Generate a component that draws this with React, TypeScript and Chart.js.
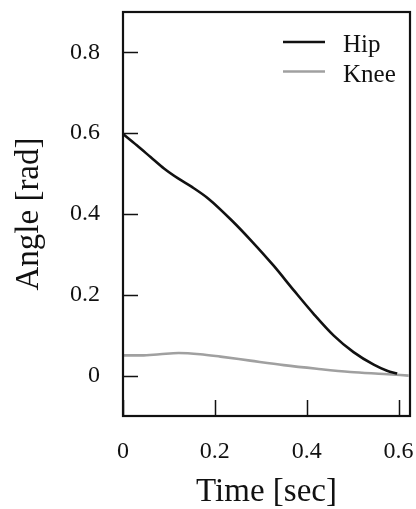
import React, { useEffect, useRef } from "react";
import { Chart, registerables } from "chart.js";

Chart.register(...registerables);

const hipTime = [0, 0.03, 0.06, 0.09, 0.12, 0.15, 0.186, 0.237, 0.28, 0.328, 0.372, 0.415, 0.459, 0.502, 0.546, 0.575, 0.597];
const hipAngle = [0.598, 0.570, 0.541, 0.512, 0.488, 0.467, 0.438, 0.384, 0.333, 0.272, 0.211, 0.153, 0.099, 0.058, 0.027, 0.012, 0.005];
const kneeTime = [0, 0.04, 0.08, 0.121, 0.168, 0.212, 0.277, 0.35, 0.422, 0.495, 0.568, 0.622];
const kneeAngle = [0.05, 0.05, 0.053, 0.056, 0.053, 0.047, 0.037, 0.026, 0.017, 0.009, 0.004, 0.0];
const xTicks = [0, 0.2, 0.4, 0.6];
const yTicks = [0, 0.2, 0.4, 0.6, 0.8];
const seriesNames = ["Hip", "Knee"];

const FONT = "'Liberation Serif', 'Times New Roman', serif";

const framePlugin = {
  id: "frame",
  afterDatasetsDraw(chart: any) {
    const { ctx, chartArea: a, scales } = chart;
    ctx.save();
    ctx.strokeStyle = "#111";
    ctx.lineWidth = 1.5;
    ctx.beginPath();
    for (const v of yTicks) {
      const y = Math.round(scales.y.getPixelForValue(v)) + 0.5;
      ctx.moveTo(a.left, y);
      ctx.lineTo(a.left + 15, y);
    }
    for (const v of xTicks) {
      const x = Math.round(scales.x.getPixelForValue(v)) + 0.5;
      ctx.moveTo(x, a.bottom);
      ctx.lineTo(x, a.bottom - 16);
    }
    ctx.stroke();
    ctx.lineWidth = 2.2;
    ctx.strokeRect(a.left, a.top, a.right - a.left, a.bottom - a.top);
    // legend
    const ds = chart.data.datasets;
    ds.forEach((d: any, i: number) => {
      const ly = a.top + 30 + i * 29.5;
      ctx.strokeStyle = d.borderColor;
      ctx.lineWidth = d.borderWidth;
      ctx.beginPath();
      ctx.moveTo(a.right - 127, ly);
      ctx.lineTo(a.right - 85, ly);
      ctx.stroke();
      ctx.fillStyle = "#111";
      ctx.font = `25px ${FONT}`;
      ctx.textBaseline = "alphabetic";
      ctx.textAlign = "left";
      ctx.fillText(d.label, a.right - 67, ly + 10);
    });
    ctx.restore();
  },
};

export default function App() {
  const ref = useRef<HTMLCanvasElement>(null);
  useEffect(() => {
    const chart = new Chart(ref.current!, {
      type: "line",
      data: {
        datasets: [
          {
            label: seriesNames[0],
            data: hipTime.map((t, i) => ({ x: t, y: hipAngle[i] })),
            borderColor: "#111111",
            borderWidth: 2.6,
            pointRadius: 0,
            cubicInterpolationMode: "monotone",
          },
          {
            label: seriesNames[1],
            data: kneeTime.map((t, i) => ({ x: t, y: kneeAngle[i] })),
            borderColor: "#a0a0a0",
            borderWidth: 2.6,
            pointRadius: 0,
            cubicInterpolationMode: "monotone",
          },
        ],
      },
      options: {
        animation: false,
        responsive: false,
        maintainAspectRatio: false,
        layout: { padding: { left: 0, right: 6, top: 12, bottom: 0 } },
        plugins: { legend: { display: false }, tooltip: { enabled: false } },
        scales: {
          x: {
            type: "linear",
            min: 0,
            max: 0.625,
            grid: { display: false, drawTicks: false },
            border: { display: false },
            afterBuildTicks: (s: any) => {
              s.ticks = xTicks.map((v) => ({ value: v }));
            },
            afterFit: (s: any) => {
              s.height = 93;
              s.paddingLeft = 0;
              s.paddingRight = 0;
            },
            ticks: {
              padding: 21,
              color: "#111",
              font: { family: FONT, size: 24 },
              callback: (v: any) => String(v),
              maxRotation: 0,
            },
            title: {
              display: true,
              text: "Time [sec]",
              color: "#111",
              font: { family: FONT, size: 33, lineHeight: 1.0 },
              padding: { top: 0, bottom: 0 },
            },
          },
          y: {
            type: "linear",
            min: -0.1,
            max: 0.9,
            grid: { display: false, drawTicks: false },
            border: { display: false },
            afterBuildTicks: (s: any) => {
              s.ticks = yTicks.map((v) => ({ value: v }));
            },
            afterFit: (s: any) => {
              s.width = 123;
              s.paddingTop = 0;
              s.paddingBottom = 0;
            },
            ticks: {
              padding: 23,
              color: "#111",
              font: { family: FONT, size: 24 },
              callback: (v: any) => String(v),
            },
            title: {
              display: true,
              text: "Angle [rad]",
              color: "#111",
              font: { family: FONT, size: 33 },
              padding: { top: 10, bottom: 0 },
            },
          },
        },
      },
      plugins: [framePlugin],
    });
    return () => chart.destroy();
  }, []);
  return (
    <div style={{ position: "fixed", left: 0, top: 0, width: 416, height: 509, background: "#fff" }}>
      <canvas ref={ref} width={416} height={509} />
    </div>
  );
}
